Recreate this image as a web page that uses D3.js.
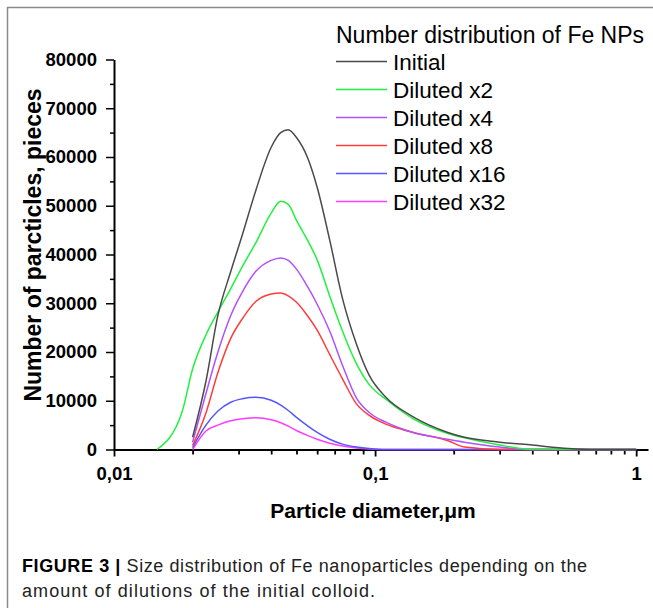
<!DOCTYPE html>
<html>
<head>
<meta charset="utf-8">
<script src="https://cdn.jsdelivr.net/npm/d3@7"></script>
<style>
  body { margin: 0; background: #fff; }
  text { font-family: "Liberation Sans", Arial, sans-serif; }
  .axis path, .axis line { stroke: #000; }
</style>
</head>
<body>
<svg id="chart"></svg>
<script>
// Particle diameter grid, um (shared by all series)
const diameters = [0.0146, 0.0182, 0.02, 0.0225, 0.025, 0.028, 0.031, 0.035, 0.04, 0.0435, 0.0465,
                   0.05, 0.055, 0.06, 0.067, 0.075, 0.085, 0.095, 0.11, 0.14, 0.19, 0.22, 0.3, 0.4, 0.55, 0.7, 1.0];

// Number of particles for each dilution (null = no measurement)
const initial   = [null, null, 2500, 14000, 27500, 36500, 44000, 53300, 62000, 65000, 65600,
                   64000, 60000, 53800, 43000, 31000, 21500, 15200, 10700, 6700, 3500, 2500, 1500, 900, 200, 0, 0];
const diluted2  = [0, 7600, 16500, 23500, 28200, 33000, 37500, 42500, 48500, 50900, 50300,
                   47000, 43000, 38900, 31500, 24300, 17500, 13300, 10300, 6300, 3300, 2400, 900, 0, 0, 0, 0];
const diluted4  = [null, null, 1500, 11500, 20000, 27500, 32300, 36600, 38800, 39300, 38800,
                   37000, 33500, 29800, 24300, 17300, 10500, 7600, 5600, 3500, 2100, 1500, 500, 0, 0, 0, 0];
const diluted8  = [null, null, 800, 7500, 15800, 22800, 26800, 30400, 31900, 32100, 31500,
                   30200, 27500, 24500, 19500, 14500, 9300, 7000, 5200, 3500, 1800, 500, 0, 0, 0, 0, 0];
const diluted16 = [null, null, 400, 5000, 7900, 9700, 10400, 10700, 10100, 9100, 8000,
                   6600, 4900, 3500, 2100, 1100, 500, 200, 0, 0, 0, 0, 0, 0, 0, 0, 0];
const diluted32 = [null, null, 0, 3800, 5000, 5900, 6300, 6500, 6100, 5500, 4800,
                   3900, 2900, 2100, 1300, 700, 300, 120, 0, 0, 0, 0, 0, 0, 0, 0, 0];

const seriesNames  = ['Initial', 'Diluted x2', 'Diluted x4', 'Diluted x8', 'Diluted x16', 'Diluted x32'];
const seriesValues = [initial, diluted2, diluted4, diluted8, diluted16, diluted32];
const seriesColors = ['#4a4a4a', '#22f040', '#b050ff', '#ff3c3c', '#5555ff', '#ff3cff'];

const yTicks = [0, 10000, 20000, 30000, 40000, 50000, 60000, 70000, 80000];
const xTicks = [0.01, 0.1, 1];

const width = 653, height = 608;
const svg = d3.select('#chart')
    .attr('width', width)
    .attr('height', height);

// thin frame on left and top, like the journal figure box
svg.append('path')
    .attr('d', `M7.5,${height} V7.5 H${width}`)
    .attr('fill', 'none')
    .attr('stroke', '#8a8a8a')
    .attr('stroke-width', 1.5);

// Scales
const xScale = d3.scaleLog()
    .domain([0.01, 1.11])
    .range([114, 648]);

const yScale = d3.scaleLinear()
    .domain([0, 80000])
    .range([449.5, 59.5]);

// Axes
const fmtX = d => String(d).replace('.', ',');
const tickFont = g => g.selectAll('text')
    .attr('font-size', 18.5)
    .attr('font-weight', 'bold')
    .attr('font-family', '"Liberation Sans", Arial, sans-serif');

const xMinor = [];
[0.01, 0.1].forEach(dec => { for (let k = 2; k <= 9; k++) xMinor.push(+(dec * k).toFixed(3)); });

svg.append('g')
    .attr('class', 'axis')
    .attr('transform', `translate(0,${yScale(0)})`)
    .call(d3.axisBottom(xScale).tickValues(xMinor).tickSize(5).tickFormat(''))
    .call(g => g.select('.domain').remove())
    .selectAll('line').attr('stroke-width', 1.8);

svg.append('g')
    .attr('class', 'axis')
    .attr('transform', `translate(0,${yScale(0)})`)
    .call(d3.axisBottom(xScale).tickValues(xTicks).tickSize(7).tickSizeOuter(0).tickPadding(10).tickFormat(fmtX))
    .call(g => g.select('.domain').attr('stroke-width', 2))
    .call(g => g.selectAll('line').attr('stroke-width', 1.8))
    .call(tickFont);

const yMinor = d3.range(5000, 80000, 10000);

svg.append('g')
    .attr('class', 'axis')
    .attr('transform', 'translate(114,0)')
    .call(d3.axisLeft(yScale).tickValues(yMinor).tickSize(4).tickFormat(''))
    .call(g => g.select('.domain').remove())
    .selectAll('line').attr('stroke-width', 1.5);

svg.append('g')
    .attr('class', 'axis')
    .attr('transform', 'translate(114,0)')
    .call(d3.axisLeft(yScale).tickValues(yTicks).tickSize(8).tickSizeOuter(0).tickPadding(9).tickFormat(d3.format('d')))
    .call(g => g.select('.domain').attr('stroke-width', 2))
    .call(g => g.selectAll('line').attr('stroke-width', 1.5))
    .call(tickFont);

// Axis titles
svg.append('text')
    .attr('x', 373)
    .attr('y', 518)
    .attr('text-anchor', 'middle')
    .attr('font-size', 21)
    .attr('font-weight', 'bold')
    .text('Particle diameter,\u03bcm');

svg.append('text')
    .attr('transform', 'translate(41,245) rotate(-90)')
    .attr('text-anchor', 'middle')
    .attr('font-size', 23)
    .attr('font-weight', 'bold')
    .text('Number of parcticles, pieces');

// Curves
const line = d3.line()
    .defined(d => d[1] != null)
    .x(d => xScale(d[0]))
    .y(d => yScale(d[1]))
    .curve(d3.curveMonotoneX);

svg.append('g')
    .selectAll('path')
    .data(seriesValues.map((vals, i) => ({ i, pts: diameters.map((d, j) => [d, vals[j]]) })).reverse())
    .join('path')
    .attr('d', s => line(s.pts))
    .attr('fill', 'none')
    .attr('stroke', s => seriesColors[s.i])
    .attr('stroke-width', 1.5);

// Legend
const legend = svg.append('g').attr('transform', 'translate(336,0)');

legend.append('text')
    .attr('x', 0)
    .attr('y', 43)
    .attr('font-size', 23)
    .text('Number distribution of Fe NPs');

const rows = legend.selectAll('.row')
    .data(seriesNames)
    .join('g')
    .attr('class', 'row')
    .attr('transform', (d, i) => `translate(0,${61.5 + i * 28})`);

rows.append('line')
    .attr('x1', 0).attr('x2', 51)
    .attr('stroke', (d, i) => seriesColors[i])
    .attr('stroke-width', 1.5);

rows.append('text')
    .attr('x', 57)
    .attr('y', 8.5)
    .attr('font-size', 22.5)
    .text(d => d);

// Caption
const cap1 = svg.append('text')
    .attr('x', 22)
    .attr('y', 572)
    .attr('font-size', 18)
    .attr('textLength', 565)
    .attr('lengthAdjust', 'spacing');
cap1.append('tspan').attr('font-weight', 'bold').text('FIGURE 3 | ');
cap1.append('tspan').attr('fill', '#222').text('Size distribution of Fe nanoparticles depending on the');

svg.append('text')
    .attr('x', 22)
    .attr('y', 597)
    .attr('font-size', 18)
    .attr('fill', '#222')
    .attr('textLength', 353)
    .attr('lengthAdjust', 'spacing')
    .text('amount of dilutions of the initial colloid.');
</script>
</body>
</html>
